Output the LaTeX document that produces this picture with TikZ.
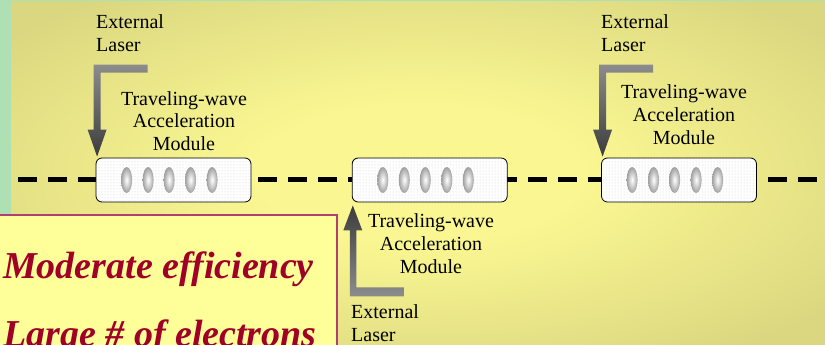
\documentclass[tikz,border=0pt]{standalone}
\usepackage{fontspec}
\setmainfont{Liberation Serif}
\usetikzlibrary{patterns,calc}
\definecolor{bgdark}{RGB}{219,215,128}
\definecolor{bgbright}{RGB}{250,247,146}
\definecolor{bggreen}{RGB}{174,224,180}
\definecolor{boxfill}{RGB}{255,255,153}
\definecolor{boxline}{RGB}{176,64,112}
\definecolor{redtext}{RGB}{160,0,40}
\definecolor{arrlight}{RGB}{140,140,140}
\definecolor{arrdark}{RGB}{60,60,60}
\pgfdeclareradialshading{bgshade}{\pgfpoint{0bp}{0bp}}{color(0bp)=(bgbright); color(10bp)=(bgbright); color(32bp)=(bgdark); color(50bp)=(bgdark)}
\newcommand\mlines[2][c]{\begin{tabular}[t]{@{}#1@{}}#2\end{tabular}}
\tikzset{
  module/.style={draw=black, line width=0.8pt, rounded corners=6pt,
    minimum width=155pt, minimum height=44pt, inner sep=0pt,
    preaction={fill=white}, pattern=dots, pattern color=black!18},
  lbl/.style={font=\fontsize{20}{23}\selectfont, inner sep=0pt},
  bigtxt/.style={font=\fontsize{38}{40}\selectfont\bfseries\itshape, text=redtext, inner sep=0pt, anchor=base west},
  lens/.style={inner color=white, outer color=gray!75},
  beam/.style={line width=5.5pt, dash pattern=on 19pt off 11pt},
  pics/laserdown/.style={code={
    \shade[top color=arrlight, bottom color=arrdark]
      (-2,-93) -- (52,-93) -- (52,-85) -- (5,-85) -- (5,-28) -- (11,-28)
      -- (1.5,-1) -- (-8,-28) -- (-2,-28) -- cycle;}},
  pics/laserup/.style={code={
    \shade[top color=arrdark, bottom color=arrlight]
      (-2,94) -- (52,94) -- (52,85) -- (4.5,85) -- (4.5,28) -- (10.5,28)
      -- (1,3) -- (-8.5,28) -- (-2,28) -- cycle;}},
}
\begin{document}
\begin{tikzpicture}[x=1pt,y=-1pt]
\useasboundingbox (0,0) rectangle (825,345);
\clip (0,0) rectangle (825,345);
% background
\fill[bggreen] (0,0) rectangle (825,345);
\shade[shading=bgshade] (11.5,1.5) rectangle (825,345);
% beam line
\coordinate (lstart) at (18,179.5);
\coordinate (lend) at (830,179.5);
\draw[beam] (lstart) -- (lend);
% modules
\node[module] (m1) at (173.5,180) {};
\node[module] (m2) at (429.7,180) {};
\node[module] (m3) at (679,180) {};
\foreach \m in {m1,m2,m3}{
  \foreach \dx in {31,52.5,73.5,95,116.5}{
    \shade[lens] ($(\m.west)+(\dx,0)$) ellipse [x radius=5.5, y radius=13];
  }
}
% laser arrows
\pic[shift={(m1.north west)}] {laserdown};
\pic[shift={(m3.north west)}] {laserdown};
\pic[shift={(m2.south west)}] {laserup};
% labels
\node[lbl, anchor=base west] (el1) at (96,29) {\mlines[l]{External\\Laser}};
\node[lbl, anchor=base] (tw1) at (184,105) {\mlines{Traveling-wave\\Acceleration\\Module}};
\node[lbl, anchor=base west] (el3) at (601,29) {\mlines[l]{External\\Laser}};
\node[lbl, anchor=base] (tw3) at (684,99) {\mlines{Traveling-wave\\Acceleration\\Module}};
\node[lbl, anchor=base] (tw2) at (431,227) {\mlines{Traveling-wave\\Acceleration\\Module}};
\node[lbl, anchor=base west] (el2) at (351,318) {\mlines[l]{External\\Laser}};
% yellow box
\draw[draw=boxline, fill=boxfill, line width=1.5pt] (-2,215) rectangle (337,360);
\node[bigtxt] (t1) at (3,278) {Moderate efficiency};
\node[bigtxt] (t2) at (3,346) {Large \# of electrons};
\end{tikzpicture}
\end{document}
